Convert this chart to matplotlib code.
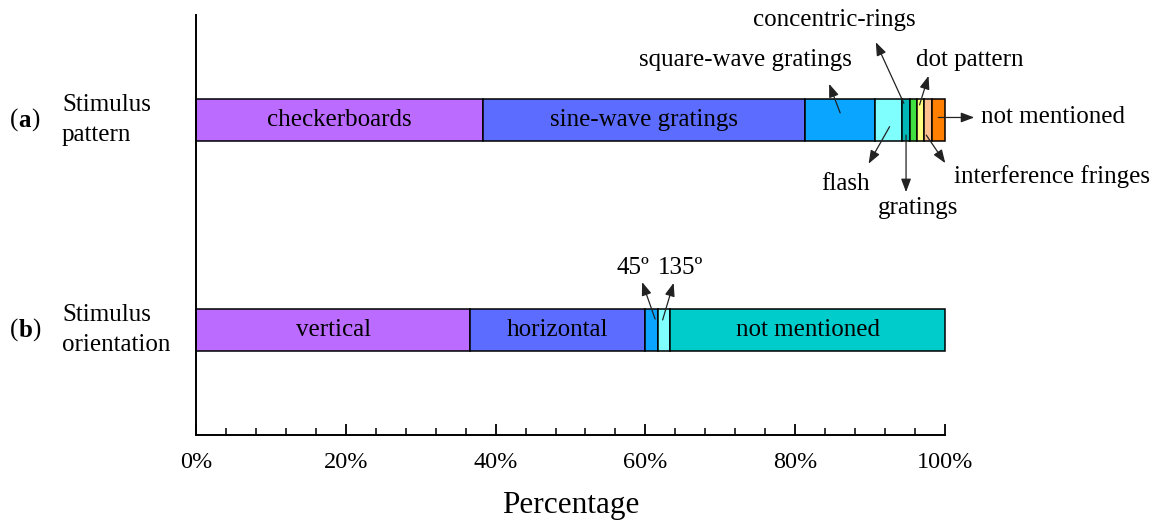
import matplotlib
matplotlib.use("Agg")
import matplotlib.pyplot as plt
import numpy as np

plt.rcParams['font.family'] = ['Liberation Serif', 'DejaVu Serif']

# ---- data ----
pattern_labels = ["checkerboards", "sine-wave gratings", "square-wave gratings", "flash",
                  "gratings", "concentric-rings", "dot pattern", "interference fringes",
                  "not mentioned"]
pattern_values = [38.3, 43.0, 9.3, 3.7, 1.0, 0.9, 1.0, 1.0, 1.8]
pattern_colors = ["#BB6BFF", "#5B6CFF", "#0AA5FF", "#80FFFF", "#00B8B8",
                  "#3FE03F", "#FFFF80", "#FFC090", "#FF8000"]

orient_labels = ["vertical", "horizontal", "45º", "135º", "not mentioned"]
orient_values = [36.6, 23.4, 1.7, 1.6, 36.7]
orient_colors = ["#BB6BFF", "#5B6CFF", "#0AA5FF", "#80FFFF", "#00CCCC"]

row_positions = [0.75, 0.25]
bar_height = 0.1
xticks = [0, 20, 40, 60, 80, 100]
xtick_labels = ["0%", "20%", "40%", "60%", "80%", "100%"]

W, H = 1159, 521
fig = plt.figure(figsize=(W / 100, H / 100), dpi=100)
ax = fig.add_axes([196 / W, 1 - 435 / H, 749 / W, 420 / H])


def draw_row(y, values, colors):
    left = 0.0
    lefts = []
    for v, c in zip(values, colors):
        ax.barh(y, v, left=left, height=bar_height, color=c, edgecolor="black",
                linewidth=1.1, clip_on=False)
        lefts.append(left)
        left += v
    return lefts


la = draw_row(row_positions[0], pattern_values, pattern_colors)
lb = draw_row(row_positions[1], orient_values, orient_colors)

# in-bar labels
fs = 18
for i in (0, 1):
    ax.text(la[i] + pattern_values[i] / 2, row_positions[0], pattern_labels[i],
            ha="center", va="center", fontsize=fs)
for i in (0, 1, 4):
    ax.text(lb[i] + orient_values[i] / 2, row_positions[1], orient_labels[i],
            ha="center", va="center", fontsize=fs)

# axes styling
ax.set_xlim(0, 100)
ax.set_ylim(0, 1)
for s in ("top", "right"):
    ax.spines[s].set_visible(False)
for s in ("left", "bottom"):
    ax.spines[s].set_linewidth(1.4)
ax.set_yticks([])
ax.set_xticks(xticks)
ax.set_xticklabels(xtick_labels, fontsize=17.5)
ax.set_xticks(np.arange(0, 101, 4), minor=True)
ax.tick_params(axis="x", which="major", direction="in", length=8, width=1.3, pad=12)
ax.tick_params(axis="x", which="minor", direction="in", length=5, width=1.1)
ax.set_xlabel("Percentage", fontsize=22.5, labelpad=13)


def fig_text(px, py, s, **kw):
    fig.text(px / W, 1 - py / H, s, **kw)


# callout arrows: tail (data coords), head offset (pixels)
callouts = [
    (86.0, 0.767, -11, 29),
    (92.6, 0.734, -21, -37),
    (94.5, 0.790, -28, 61),
    (94.8, 0.714, 0, -57),
    (96.6, 0.786, 9, 29),
    (97.5, 0.714, 19, -28),
    (99.1, 0.756, 36, 0),
    (61.3, 0.276, -13, 37),
    (62.3, 0.274, 11, 37),
]
for x, y, dx, dy in callouts:
    ax.annotate("", xy=(x, y), xycoords="data", xytext=(dx, dy),
                textcoords="offset pixels",
                arrowprops=dict(arrowstyle="<|-,head_length=0.8,head_width=0.3",
                                color="#222222", lw=0.9, shrinkA=0, shrinkB=0,
                                mutation_scale=10),
                annotation_clip=False)

# callout texts (pixel positions)
fig_text(745, 60, pattern_labels[2], ha="center", va="center", fontsize=fs)
fig_text(834, 20, pattern_labels[5], ha="center", va="center", fontsize=fs)
fig_text(970, 60, pattern_labels[6], ha="center", va="center", fontsize=fs)
fig_text(846, 184, pattern_labels[3], ha="center", va="center", fontsize=fs)
fig_text(918, 208, pattern_labels[4], ha="center", va="center", fontsize=fs)
fig_text(1052, 177, pattern_labels[7], ha="center", va="center", fontsize=fs)
fig_text(981, 117, pattern_labels[8], ha="left", va="center", fontsize=fs)
fig_text(633, 268, orient_labels[2], ha="center", va="center", fontsize=fs)
fig_text(681, 268, orient_labels[3], ha="center", va="center", fontsize=fs)

# row labels
for py, tag, name in [(120, "a", "Stimulus\npattern"), (330, "b", "Stimulus\norientation")]:
    t1 = fig.text(10 / W, 1 - py / H, "(", ha="left", va="center", fontsize=fs)
    t2 = ax.annotate(tag, xy=(1, 0), xycoords=t1, ha="left", va="bottom",
                     fontsize=fs, fontweight="bold", annotation_clip=False)
    ax.annotate(")", xy=(1, 0), xycoords=t2, ha="left", va="bottom",
                fontsize=fs, annotation_clip=False)
    fig_text(62, py, name, ha="left", va="center", fontsize=fs, linespacing=1.42)

fig.savefig("out.png", dpi=100, facecolor="white")
